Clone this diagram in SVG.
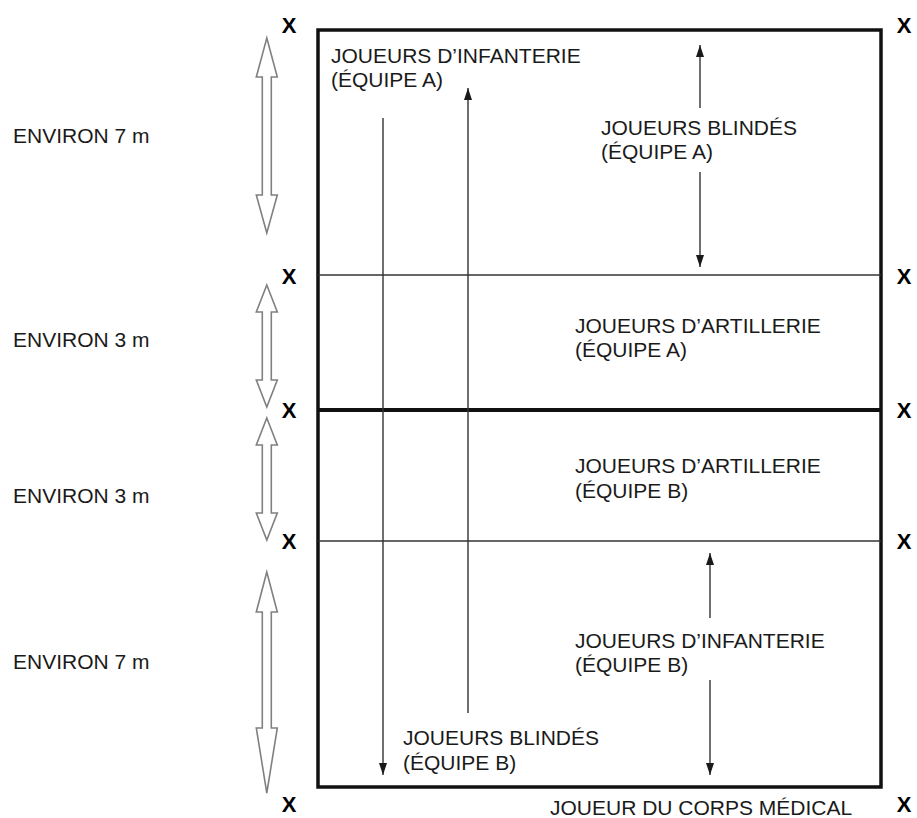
<svg xmlns="http://www.w3.org/2000/svg" width="917" height="818" viewBox="0 0 917 818">
<defs>
<style>
.lbl{font-family:"Liberation Sans",Arial,sans-serif;font-size:21px;fill:#1a1a1a}
.x{font-family:"Liberation Sans",Arial,sans-serif;font-size:22px;font-weight:bold;fill:#000;text-anchor:middle}
.thin{stroke:#333;stroke-width:1.3;fill:none}
.arr{stroke:#333;stroke-width:1.4;fill:none;marker-end:url(#ah)}
.hollow{fill:#fff;stroke:#808080;stroke-width:1.6;stroke-linejoin:miter}
</style>
<marker id="ah" viewBox="0 0 12 8" refX="12" refY="4" markerWidth="12" markerHeight="8" markerUnits="userSpaceOnUse" orient="auto">
<path d="M0,0 L12,4 L0,8 Z" fill="#1a1a1a"/>
</marker>
</defs>
<rect width="917" height="818" fill="#fff"/>

<g id="field">
<rect x="318" y="30" width="563" height="757" fill="none" stroke="#111" stroke-width="3.5"/>
<line class="thin" x1="318" y1="275" x2="881" y2="275"/>
<line x1="318" y1="410" x2="881" y2="410" stroke="#111" stroke-width="4"/>
<line class="thin" x1="318" y1="541" x2="881" y2="541"/>
</g>

<g id="markers-left">
<text class="x" x="289" y="33">X</text>
<text class="x" x="289" y="284">X</text>
<text class="x" x="289" y="418">X</text>
<text class="x" x="289" y="549">X</text>
<text class="x" x="289" y="812">X</text>
</g>
<g id="markers-right">
<text class="x" x="904" y="33">X</text>
<text class="x" x="904" y="284">X</text>
<text class="x" x="904" y="418">X</text>
<text class="x" x="904" y="549">X</text>
<text class="x" x="904" y="812">X</text>
</g>

<g id="dimensions">
<path class="hollow" d="M266.8,38 L277.3,77 L271.3,77 L271.3,195 L277.3,195 L266.8,233 L256.3,195 L262.3,195 L262.3,77 L256.3,77 Z"/>
<path class="hollow" d="M266.8,285 L277.3,312 L271.3,312 L271.3,380 L277.3,380 L266.8,407 L256.3,380 L262.3,380 L262.3,312 L256.3,312 Z"/>
<path class="hollow" d="M266.8,418 L277.3,445 L271.3,445 L271.3,513 L277.3,513 L266.8,540 L256.3,513 L262.3,513 L262.3,445 L256.3,445 Z"/>
<path class="hollow" d="M266.8,572 L277.3,612 L271.3,612 L271.3,728 L277.3,728 L266.8,793 L256.3,728 L262.3,728 L262.3,612 L256.3,612 Z"/>
<text class="lbl" x="13" y="143">ENVIRON 7 m</text>
<text class="lbl" x="13" y="347">ENVIRON 3 m</text>
<text class="lbl" x="13" y="503">ENVIRON 3 m</text>
<text class="lbl" x="13" y="669">ENVIRON 7 m</text>
</g>

<g id="connectors">
<line class="arr" x1="383" y1="118" x2="383" y2="775"/>
<line class="arr" x1="468" y1="713" x2="468" y2="88"/>
<line class="arr" x1="700" y1="108" x2="700" y2="45"/>
<line class="arr" x1="700" y1="172" x2="700" y2="267"/>
<line class="arr" x1="710" y1="618" x2="710" y2="553"/>
<line class="arr" x1="710" y1="680" x2="710" y2="775"/>
</g>

<g id="infantry-a">
<text class="lbl" x="331" y="63">JOUEURS D’INFANTERIE</text>
<text class="lbl" x="331" y="87">(ÉQUIPE A)</text>
</g>
<g id="armour-a">
<text class="lbl" x="601" y="135">JOUEURS BLINDÉS</text>
<text class="lbl" x="601" y="159">(ÉQUIPE A)</text>
</g>
<g id="artillery-a">
<text class="lbl" x="575" y="333">JOUEURS D’ARTILLERIE</text>
<text class="lbl" x="575" y="357">(ÉQUIPE A)</text>
</g>
<g id="artillery-b">
<text class="lbl" x="575" y="473">JOUEURS D’ARTILLERIE</text>
<text class="lbl" x="575" y="498">(ÉQUIPE B)</text>
</g>
<g id="infantry-b">
<text class="lbl" x="575" y="648">JOUEURS D’INFANTERIE</text>
<text class="lbl" x="575" y="672">(ÉQUIPE B)</text>
</g>
<g id="armour-b">
<text class="lbl" x="403" y="745">JOUEURS BLINDÉS</text>
<text class="lbl" x="403" y="770">(ÉQUIPE B)</text>
</g>
<g id="medic">
<text class="lbl" x="550" y="815">JOUEUR DU CORPS MÉDICAL</text>
</g>
</svg>
